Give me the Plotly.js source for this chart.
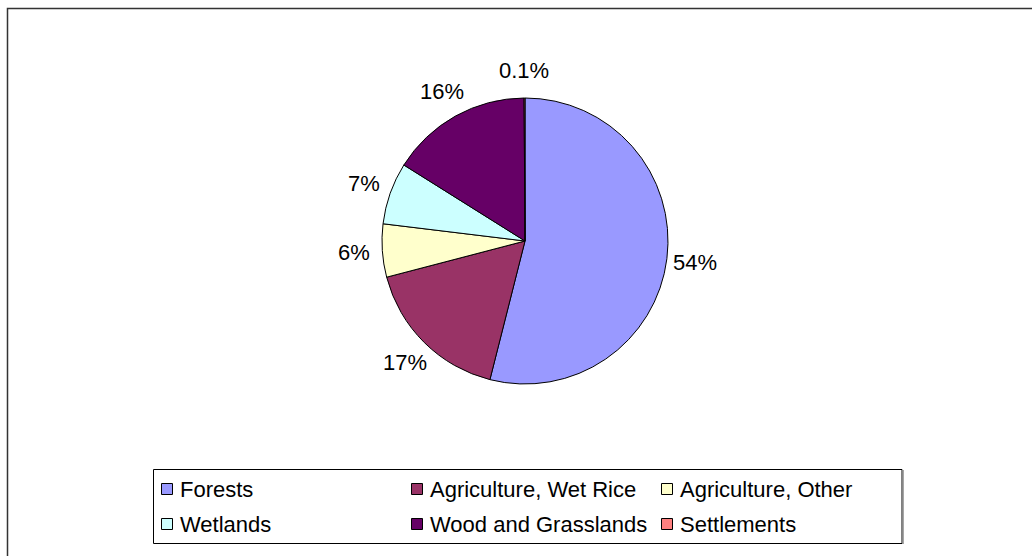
<!DOCTYPE html>
<html><head><meta charset="utf-8">
<script src="https://cdn.plot.ly/plotly-3.0.1.min.js"></script>
<style>html,body{margin:0;padding:0;background:#fff;}#chart{width:1032px;height:556px;}</style>
</head><body><div id="chart"></div>
<script>
// ---- data ----
const categories = ["Forests", "Agriculture, Wet Rice", "Agriculture, Other", "Wetlands", "Wood and Grasslands", "Settlements"];
const shares = [54, 17, 6, 7, 16, 0.1];
const shareLabels = ["54%", "17%", "6%", "7%", "16%", "0.1%"];
const colors = ["#9999FF", "#993366", "#FFFFCC", "#CCFFFF", "#660066", "#FF8080"];

// ---- layout helpers ----
const W = 1032, H = 556;
const M = {l: 145, r: 127, t: 98, b: 172};
const PW = W - M.l - M.r, PH = H - M.t - M.b;
const px = x => (x - M.l) / PW;
const py = y => 1 - (y - M.t) / PH;
const FONT = '"Liberation Sans", Arial, sans-serif';
const LABEL_SIZE = 22, LEGEND_SIZE = 22, LABEL_GAP = 28;

const shapes = [
  {type: 'rect', xref: 'paper', yref: 'paper', x0: px(7.5), x1: px(1045), y0: py(8.5), y1: py(570),
   line: {color: '#333333', width: 1.5}, fillcolor: 'rgba(0,0,0,0)'},
  {type: 'rect', xref: 'paper', yref: 'paper', x0: px(153.5), x1: px(902), y0: py(469.5), y1: py(543.5),
   line: {color: '#000000', width: 1}, fillcolor: 'rgba(0,0,0,0)'},
  {type: 'line', xref: 'paper', yref: 'paper', x0: px(903), x1: px(903), y0: py(470), y1: py(544),
   line: {color: '#888888', width: 1.5}}
];
const annotations = [];
const colX = [161, 411, 661], rowY = [489, 524];
categories.forEach((c, i) => {
  const cx = colX[i % 3], cy = rowY[Math.floor(i / 3)];
  shapes.push({type: 'rect', xref: 'paper', yref: 'paper', x0: px(cx + 0.5), x1: px(cx + 11.5), y0: py(cy - 5.5), y1: py(cy + 5.5),
    line: {color: '#000000', width: 1}, fillcolor: colors[i]});
  annotations.push({xref: 'paper', yref: 'paper', x: px(cx + 17), y: py(cy), xanchor: 'left', yanchor: 'middle',
    text: c, showarrow: false, font: {family: FONT, size: LEGEND_SIZE, color: '#000'}});
});

const trace = {
  type: 'pie', labels: categories, values: shares, sort: false, direction: 'clockwise', rotation: 0,
  marker: {colors: colors, line: {color: '#000000', width: 1}},
  textposition: 'none', showlegend: false, hoverinfo: 'none', automargin: false,
  domain: {x: [0, 1], y: [0, 1]}
};

const layout = {
  width: W, height: H, margin: M, paper_bgcolor: '#fff', plot_bgcolor: '#fff',
  showlegend: false, shapes: shapes, annotations: annotations, font: {family: FONT}
};

Plotly.newPlot('chart', [trace], layout, {displayModeBar: false, staticPlot: true}).then(gd => {
  // place percentage labels outside each slice, using the pie geometry computed by Plotly
  const cd0 = gd.calcdata[0][0];
  const cxp = cd0.cx, cyp = cd0.cy, r = cd0.r;
  const total = shares.reduce((a, b) => a + b, 0);
  let cum = 0;
  const labelAnns = shares.map((v, i) => {
    const mid = (cum + v / 2) / total * 2 * Math.PI;
    cum += v;
    const d = r + LABEL_GAP;
    const x = cxp + d * Math.sin(mid), y = cyp - d * Math.cos(mid);
    return {xref: 'paper', yref: 'paper', x: (x - M.l) / PW, y: 1 - (y - M.t) / PH,
      xanchor: 'center', yanchor: 'middle', showarrow: false, text: shareLabels[i],
      font: {family: FONT, size: LABEL_SIZE, color: '#000'}};
  });
  return Plotly.relayout(gd, {annotations: annotations.concat(labelAnns)});
});
</script></body></html>
